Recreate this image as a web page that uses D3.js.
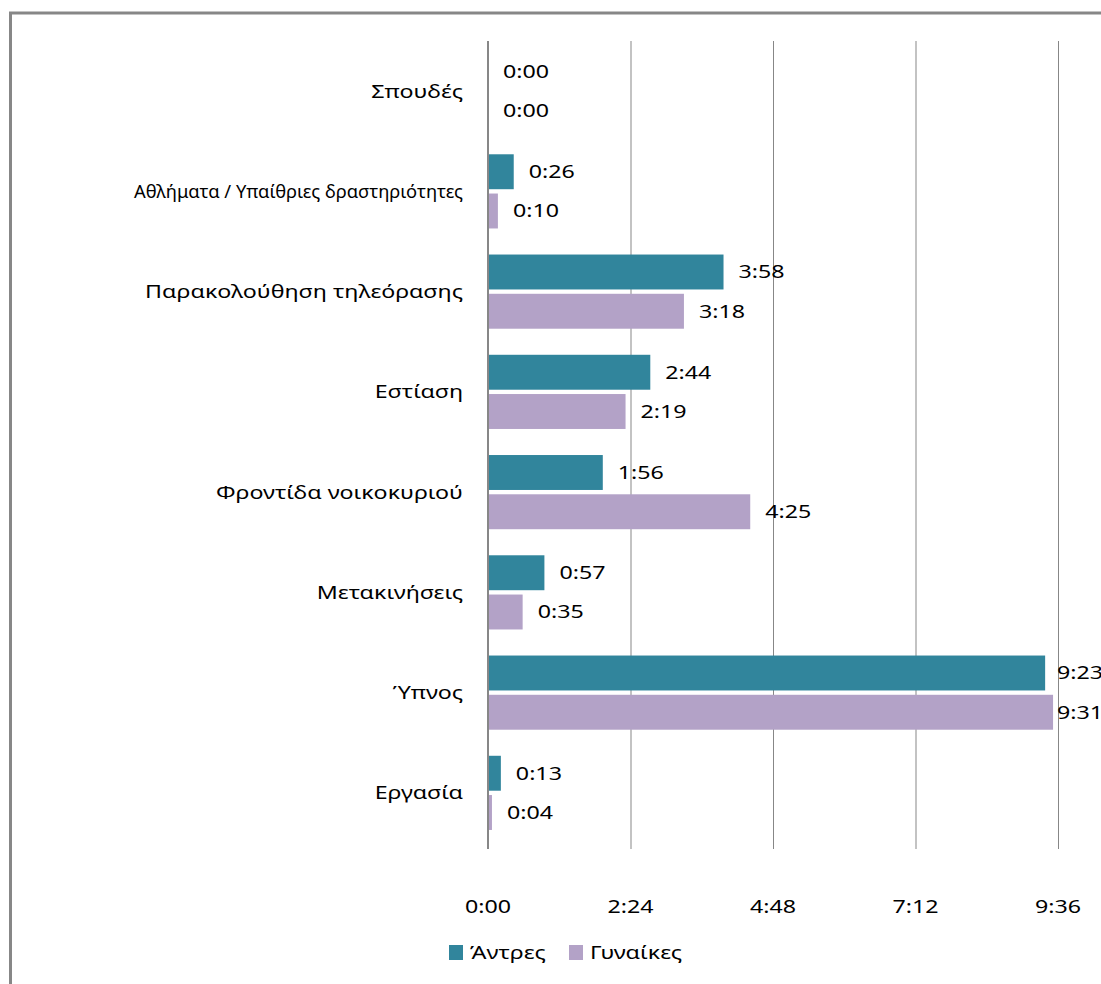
<!DOCTYPE html>
<html>
<head>
<meta charset="utf-8">
<script src="https://cdn.jsdelivr.net/npm/d3@7"></script>
<style>
  body { margin: 0; background: #fff; }
  svg text { font-family: "Noto Sans", "DejaVu Sans", sans-serif; fill: #000; }
</style>
</head>
<body>
<div id="chart"></div>
<script>
(function () {
    // activities, top to bottom as drawn
    var categories = ["Σπουδές", "Αθλήματα / Υπαίθριες δραστηριότητες", "Παρακολούθηση τηλεόρασης",
        "Εστίαση", "Φροντίδα νοικοκυριού", "Μετακινήσεις", "Ύπνος", "Εργασία"];
    var seriesNames = ["Άντρες", "Γυναίκες"];
    // time values, h:mm
    var men = ["0:00", "0:26", "3:58", "2:44", "1:56", "0:57", "9:23", "0:13"];
    var women = ["0:00", "0:10", "3:18", "2:19", "4:25", "0:35", "9:31", "0:04"];
    var tickLabels = ["0:00", "2:24", "4:48", "7:12", "9:36"];

    var colors = ["#31859c", "#b3a2c7"];

    var width = 1101, height = 984;
    var sx = 1.29;          // the original text is drawn wide
    var maxLabel = 329;     // longest category label is squeezed to this

    function toMin(s) {
        var p = s.split(":");
        return (+p[0]) * 60 + (+p[1]);
    }

    function place(x, y, s) {
        return "translate(" + x + "," + y + ") scale(" + (s || sx) + ",1)";
    }

    var data = categories.map(function (c, i) {
        return { cat: c, values: [men[i], women[i]] };
    });

    var svg = d3.select("#chart")
        .append("svg")
        .attr("width", width)
        .attr("height", height);

    // outer chart frame (cropped at right and bottom in the picture)
    svg.append("rect")
        .attr("x", 10.5)
        .attr("y", 13)
        .attr("width", 1200)
        .attr("height", 1100)
        .attr("fill", "none")
        .attr("stroke", "#878787")
        .attr("stroke-width", 3);

    var x = d3.scaleLinear().domain([0, 576]).range([488, 1058]);
    var y = d3.scaleBand().domain(categories).range([41, 843]).paddingInner(0.26).paddingOuter(0.13);
    var yInner = d3.scaleBand().domain([0, 1]).range([0, y.bandwidth()]).paddingInner(0.11);

    // grid
    svg.append("g")
        .selectAll("line")
        .data(tickLabels.slice(1))
        .join("line")
        .attr("x1", d => x(toMin(d)) + 0.5)
        .attr("x2", d => x(toMin(d)) + 0.5)
        .attr("y1", 41)
        .attr("y2", 849)
        .attr("stroke", "#878787")
        .attr("stroke-width", 1);

    var groups = svg.append("g")
        .selectAll("g")
        .data(data)
        .join("g")
        .attr("transform", d => "translate(0," + y(d.cat) + ")");

    groups.selectAll("rect")
        .data(d => d.values)
        .join("rect")
        .attr("x", x(0))
        .attr("y", (d, i) => yInner(i))
        .attr("height", yInner.bandwidth())
        .attr("width", d => x(toMin(d)) - x(0))
        .attr("fill", (d, i) => colors[i]);

    groups.selectAll("text.val")
        .data(d => d.values)
        .join("text")
        .attr("class", "val")
        .attr("transform", (d, i) => place(Math.min(x(toMin(d)) + 15, 1057), yInner(i) + yInner.bandwidth() / 2))
        .attr("dy", "0.36em")
        .style("font-size", "18px")
        .text(d => d);

    // category labels
    svg.append("g")
        .selectAll("text")
        .data(categories)
        .join("text")
        .attr("transform", d => place(463, y(d) + y.bandwidth() / 2))
        .attr("dy", "0.36em")
        .attr("text-anchor", "end")
        .style("font-size", "18px")
        .text(d => d)
        .each(function (d) {
            var w = this.getComputedTextLength();
            if (w * sx > maxLabel) {
                d3.select(this).attr("transform", place(463, y(d) + y.bandwidth() / 2, maxLabel / w));
            }
        });

    // vertical axis line
    svg.append("line")
        .attr("x1", x(0))
        .attr("x2", x(0))
        .attr("y1", 41)
        .attr("y2", 849)
        .attr("stroke", "#878787")
        .attr("stroke-width", 2);

    // x tick labels
    svg.append("g")
        .selectAll("text")
        .data(tickLabels)
        .join("text")
        .attr("transform", d => place(x(toMin(d)), 907))
        .attr("dy", "0.36em")
        .attr("text-anchor", "middle")
        .style("font-size", "18px")
        .text(d => d);

    // legend
    var legendX = [449, 569];
    var legend = svg.append("g")
        .selectAll("g")
        .data(seriesNames)
        .join("g")
        .attr("transform", (d, i) => "translate(" + legendX[i] + ",945)");

    legend.append("rect")
        .attr("width", 14)
        .attr("height", 15)
        .attr("fill", (d, i) => colors[i]);

    legend.append("text")
        .attr("transform", place(21, 8))
        .attr("dy", "0.36em")
        .style("font-size", "18px")
        .text(d => d);
})();
</script>
</body>
</html>
